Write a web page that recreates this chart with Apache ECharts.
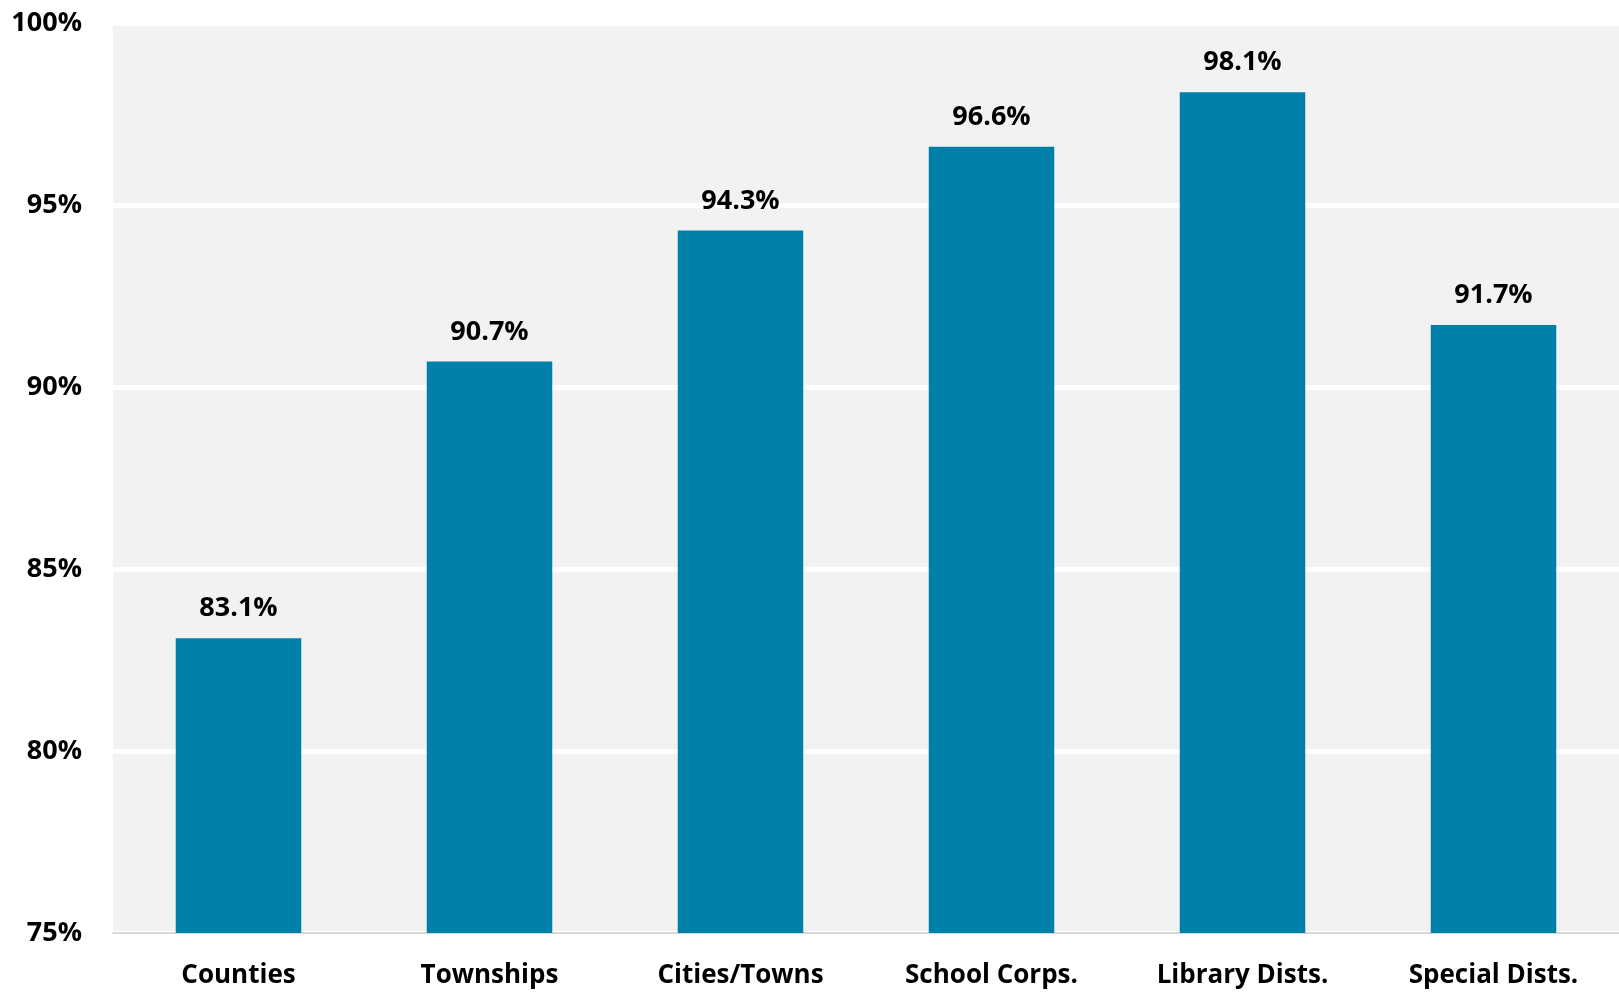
<!DOCTYPE html>
<html>
<head>
<meta charset="utf-8">
<script src="https://cdn.jsdelivr.net/npm/echarts@6/dist/echarts.min.js"></script>
<style>
  html, body { margin: 0; padding: 0; background: #fff; }
  #chart { width: 1619px; height: 992px; }
</style>
</head>
<body>
<div id="chart"></div>
<script>
// categories and values (percent)
const categories = ["Counties", "Townships", "Cities/Towns", "School Corps.", "Library Dists.", "Special Dists."];
const values = [83.1, 90.7, 94.3, 96.6, 98.1, 91.7];
const yTicks = [75, 80, 85, 90, 95, 100];

const FONT = "'Open Sans', 'Noto Sans', sans-serif";

const chart = echarts.init(document.getElementById("chart"));
chart.setOption({
  animation: false,
  grid: {
    left: 113,
    right: 0,
    top: 23,
    bottom: 59,
    show: true,
    backgroundColor: "#f2f2f2",
    borderWidth: 0
  },
  xAxis: {
    type: "category",
    data: categories,
    axisLine: { show: true, lineStyle: { color: "#d9d9d9", width: 2 } },
    axisTick: { show: false },
    axisLabel: {
      color: "#000",
      fontFamily: FONT,
      fontWeight: "bold",
      fontSize: 26,
      margin: 30
    }
  },
  yAxis: {
    type: "value",
    min: yTicks[0],
    max: yTicks[yTicks.length - 1],
    interval: 5,
    axisLine: { show: false },
    axisTick: { show: false },
    splitLine: { show: true, lineStyle: { color: "#ffffff", width: 5 } },
    axisLabel: {
      color: "#000",
      fontFamily: FONT,
      fontWeight: "bold",
      fontSize: 27,
      margin: 31,
      formatter: v => v + "%"
    }
  },
  series: [
    {
      type: "bar",
      data: values,
      barWidth: "50%",
      itemStyle: { color: "#007fa8" },
      label: {
        show: true,
        position: "top",
        distance: 16,
        color: "#000",
        fontFamily: FONT,
        fontWeight: "bold",
        fontSize: 27,
        formatter: p => p.value.toFixed(1) + "%"
      }
    }
  ]
});
</script>
</body>
</html>
